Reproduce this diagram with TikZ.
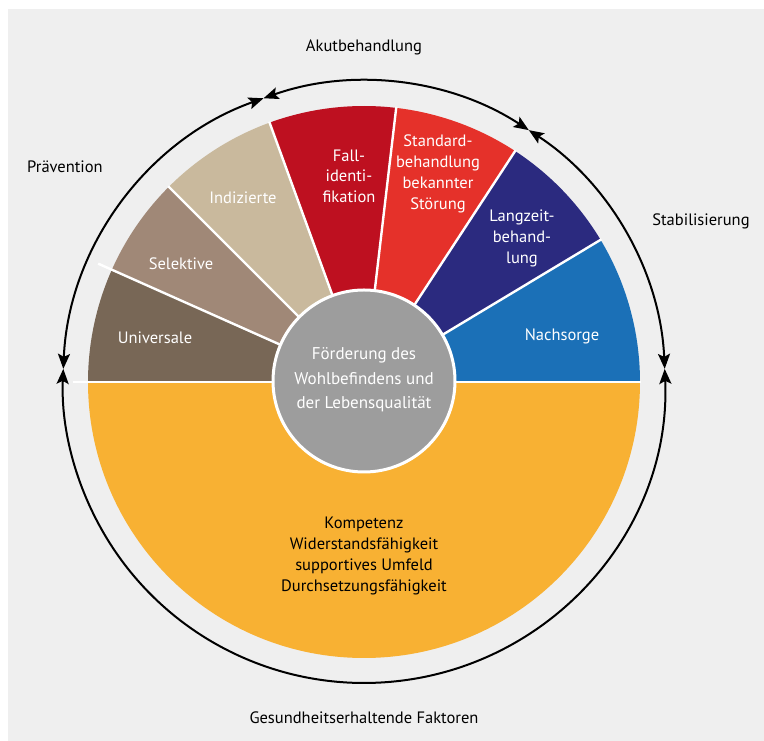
\documentclass[tikz,border=0pt]{standalone}
\usepackage{fontspec}
\setmainfont{PT Sans}
\usetikzlibrary{arrows.meta}

\definecolor{bgray}{HTML}{EFEFEF}
\definecolor{cUni}{HTML}{786756}
\definecolor{cSel}{HTML}{A08877}
\definecolor{cInd}{HTML}{C9B99D}
\definecolor{cFall}{HTML}{BE1020}
\definecolor{cStd}{HTML}{E5312A}
\definecolor{cLang}{HTML}{2B2A7F}
\definecolor{cNach}{HTML}{1B70B7}
\definecolor{cGelb}{HTML}{F8B133}
\definecolor{cMitte}{HTML}{9D9D9D}

\begin{document}
\begin{tikzpicture}[x=1pt,y=1pt,
  wedgelabel/.style={text=white, align=center, inner sep=0pt,
    font=\fontsize{16.5}{21}\selectfont},
  outerlabel/.style={text=black, inner sep=0pt, font=\fontsize{16.5}{20}\selectfont},
  separator/.style={white, line width=2.4pt},
  phasearrow/.style={line width=2pt,
    {Stealth[length=15pt,width=12pt,inset=3pt]}-{Stealth[length=15pt,width=12pt,inset=3pt]}}
]
\useasboundingbox (0,0) rectangle (764,741);
\fill[white] (0,0) rectangle (764,741);
\fill[bgray] (8,0) rectangle (764,732);

\coordinate (C) at (364,359);

% lower half: health-preserving factors
\fill[cGelb] (C) -- ++(180:276pt) arc[start angle=180, end angle=360, radius=276pt] -- cycle;

% upper half: the seven phases
\fill[cUni]  (C) -- ++(180:276pt)  arc[start angle=180,  end angle=156,  radius=276pt] -- cycle;
\fill[cSel]  (C) -- ++(156:276pt)  arc[start angle=156,  end angle=135,  radius=276pt] -- cycle;
\fill[cInd]  (C) -- ++(135:276pt)  arc[start angle=135,  end angle=110,  radius=276pt] -- cycle;
\fill[cFall] (C) -- ++(110:276pt)  arc[start angle=110,  end angle=83.3, radius=276pt] -- cycle;
\fill[cStd]  (C) -- ++(83.3:276pt) arc[start angle=83.3, end angle=56.8, radius=276pt] -- cycle;
\fill[cLang] (C) -- ++(56.8:276pt) arc[start angle=56.8, end angle=31,   radius=276pt] -- cycle;
\fill[cNach] (C) -- ++(31:276pt)   arc[start angle=31,   end angle=0,    radius=276pt] -- cycle;

% white separators
\draw[separator] (C) -- ++(180:291pt);
\draw[separator] (C) -- ++(156:291pt);
\foreach \a in {135,110,83.3,56.8,31,0}
  \draw[separator] (C) -- ++(\a:277pt);

% centre disc
\node[circle, fill=cMitte, draw=white, line width=3pt, minimum size=182pt, inner sep=0pt]
  (mitte) at (364,360) {};
\node[wedgelabel, font=\fontsize{17}{24.5}\selectfont] (mittetext) at (364,361)
  {Förderung des\\Wohlbefindens und\\der Lebensqualität};

% segment labels
\node[wedgelabel] (uni)  at (155,403) {Universale};
\node[wedgelabel] (sel)  at (181,477) {Selektive};
\node[wedgelabel] (ind)  at (243,543) {Indizierte};
\node[wedgelabel, font=\fontsize{16.5}{20.5}\selectfont] (fall) at (349,565) {Fall-\\identi-\\fikation};
\node[wedgelabel] (std)  at (438,567) {Standard-\\behandlung\\bekannter\\Störung};
\node[wedgelabel] (lang) at (522,503) {Langzeit-\\behand-\\lung};
\node[wedgelabel] (nach) at (562,405) {Nachsorge};

\node[wedgelabel, text=black] (faktoren) at (364,185)
  {Kompetenz\\Widerstandsfähigkeit\\supportives Umfeld\\Durchsetzungsfähigkeit};

% phase cycle around the chart
\path (C) ++(177.5:301pt) coordinate (mW);
\path (C) ++(109.5:301pt) coordinate (mNW);
\path (C) ++(56.8:301pt)  coordinate (mNO);
\path (C) ++(2.5:301pt)   coordinate (mO);

\draw[phasearrow] (mW)  arc[start angle=177.5, end angle=109.5, radius=301pt];
\draw[phasearrow] (mNW) arc[start angle=109.5, end angle=56.8,  radius=301pt];
\draw[phasearrow] (mNO) arc[start angle=56.8,  end angle=2.5,   radius=301pt];
\draw[phasearrow] (mO)  arc[start angle=2.5,   end angle=-182.5, radius=301pt];

% phase names
\node[outerlabel] (akut)   at (364,694) {Akutbehandlung};
\node[outerlabel] (praev)  at (65,574)  {Prävention};
\node[outerlabel] (stab)   at (701,520) {Stabilisierung};
\node[outerlabel] (gesund) at (364,23)  {Gesundheitserhaltende Faktoren};
\end{tikzpicture}
\end{document}
